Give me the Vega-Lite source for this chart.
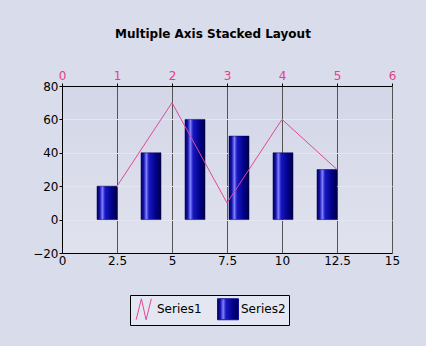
{
  "$schema": "https://vega.github.io/schema/vega-lite/v6.json",
  "width": 330,
  "height": 167,
  "autosize": {"type": "none"},
  "padding": {"left": 62, "top": 86, "right": 34, "bottom": 93},
  "background": "#d9dcea",
  "title": {
    "text": "Multiple Axis Stacked Layout",
    "font": "DejaVu Sans",
    "fontSize": 12,
    "fontWeight": "bold",
    "color": "#000000",
    "anchor": "middle",
    "dx": -14,
    "offset": 28
  },
  "config": {
    "font": "DejaVu Sans",
    "view": {
      "stroke": "#555555",
      "strokeWidth": 1,
      "fill": {"gradient": "linear", "x1": 0, "y1": 0, "x2": 0, "y2": 1, "stops": [{"offset": 0, "color": "#d3d6e7"}, {"offset": 1, "color": "#e0e2ee"}]}
    },
    "axis": {
      "labelFont": "DejaVu Sans",
      "labelFontSize": 12,
      "labelColor": "#000000",
      "domainColor": "#000000",
      "tickColor": "#000000",
      "tickSize": 3,
      "labelOverlap": false,
      "labelBound": false,
      "labelFlush": false,
      "title": null
    }
  },
  "datasets": {
    "bars": [
      {"x": 2, "value": 20, "series": "Series2"},
      {"x": 4, "value": 40, "series": "Series2"},
      {"x": 6, "value": 60, "series": "Series2"},
      {"x": 8, "value": 50, "series": "Series2"},
      {"x": 10, "value": 40, "series": "Series2"},
      {"x": 12, "value": 30, "series": "Series2"}
    ],
    "line": [
      {"x": 1, "value": 20, "series": "Series1"},
      {"x": 2, "value": 70, "series": "Series1"},
      {"x": 3, "value": 10, "series": "Series1"},
      {"x": 4, "value": 60, "series": "Series1"},
      {"x": 5, "value": 30, "series": "Series1"}
    ]
  },
  "layer": [
    {
      "data": {"name": "bars"},
      "mark": {
        "type": "bar",
        "size": 20,
        "xOffset": 1,
        "stroke": "#000050",
        "strokeWidth": 0.5,
        "color": {"gradient": "linear", "x1": 0, "y1": 0, "x2": 1, "y2": 0, "stops": [
          {"offset": 0, "color": "#00005e"},
          {"offset": 0.14, "color": "#1414b0"},
          {"offset": 0.27, "color": "#8080ff"},
          {"offset": 0.4, "color": "#1818c0"},
          {"offset": 0.75, "color": "#000088"},
          {"offset": 1, "color": "#000044"}
        ]}
      },
      "encoding": {
        "x": {
          "field": "x",
          "type": "quantitative",
          "scale": {"domain": [0, 15], "nice": false, "zero": false, "padding": 0},
          "axis": {"orient": "bottom", "values": [0, 2.5, 5, 7.5, 10, 12.5, 15], "format": ".1~f", "grid": false, "ticks": false, "labelPadding": 2, "labelFlush": false, "labelOverlap": false, "labelBound": false}
        },
        "y": {
          "field": "value",
          "type": "quantitative",
          "scale": {"domain": [-20, 80], "nice": false, "zero": false, "padding": 0},
          "axis": {"values": [-20, 0, 20, 40, 60, 80], "format": "d", "grid": true, "gridColor": "#e3e5f1", "gridOpacity": 1, "labelPadding": 1, "labelOverlap": false, "labelFlush": false, "labelBound": false}
        },
        "y2": {"datum": 0}
      }
    },
    {
      "data": {"name": "line"},
      "mark": {"type": "line", "strokeWidth": 1, "color": "#e0489a"},
      "encoding": {
        "x": {
          "field": "x",
          "type": "quantitative",
          "scale": {"domain": [0, 6], "nice": false, "zero": false},
          "axis": {"orient": "top", "values": [0, 1, 2, 3, 4, 5, 6], "format": "d", "labelColor": "#e63c8c", "grid": true, "gridColor": "#555555", "gridOpacity": 1, "gridWidth": 1, "labelPadding": 1, "labelAlign": "center", "labelFlush": false, "labelOverlap": false, "labelBound": false}
        },
        "y": {"field": "value", "type": "quantitative", "axis": {"values": [-20, 0, 20, 40, 60, 80], "format": "d", "grid": true, "gridColor": "#e3e5f1", "gridOpacity": 1, "labelPadding": 1, "labelOverlap": false, "labelFlush": false, "labelBound": false}},
        "color": {
          "field": "series",
          "type": "nominal",
          "scale": {"domain": ["Series1", "Series2"], "range": ["#e0489a", "#10109a"]},
          "legend": {
            "title": null,
            "orient": "none",
            "legendX": 68,
            "legendY": 209,
            "direction": "horizontal",
            "columns": 2,
            "padding": 3,
            "strokeColor": "#000000",
            "fillColor": "#e4e6f1",
            "labelFont": "DejaVu Sans",
            "labelFontSize": 12,
            "labelColor": "#000000",
            "labelOffset": 2,
            "columnPadding": 13,
            "symbolSize": 441,
            "encode": {
              "symbols": {
                "update": {
                  "shape": [
                    {"test": "datum.value === 'Series1'", "value": "M-0.75,1L-0.25,-1L0.2,1L0.7,-1"},
                    {"value": "square"}
                  ],
                  "fill": [
                    {"test": "datum.value === 'Series2'", "value": {"gradient": "linear", "x1": 0, "y1": 0, "x2": 1, "y2": 0, "stops": [
                      {"offset": 0, "color": "#00005e"},
                      {"offset": 0.14, "color": "#1414b0"},
                      {"offset": 0.27, "color": "#8080ff"},
                      {"offset": 0.4, "color": "#1818c0"},
                      {"offset": 0.75, "color": "#000088"},
                      {"offset": 1, "color": "#000044"}
                    ]}},
                    {"value": "transparent"}
                  ],
                  "stroke": [
                    {"test": "datum.value === 'Series1'", "value": "#e0489a"},
                    {"value": "#000050"}
                  ],
                  "strokeWidth": {"value": 1},
                  "opacity": {"value": 1}
                }
              }
            }
          }
        }
      }
    }
  ],
  "resolve": {"scale": {"x": "independent"}, "axis": {"x": "independent"}}
}
